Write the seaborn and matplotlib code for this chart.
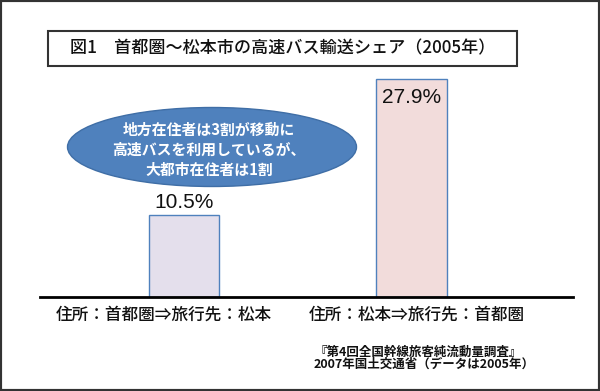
import seaborn as sns
import pandas as pd
import matplotlib.pyplot as plt
from matplotlib.patches import Ellipse, Rectangle

# data
routes = ["住所：首都圏⇒旅行先：松本", "住所：松本⇒旅行先：首都圏"]
shares = [10.5, 27.9]
share_labels = ["10.5%", "27.9%"]
bar_colors = ["#e4dfec", "#f2dcdb"]

title = "図1　首都圏～松本市の高速バス輸送シェア（2005年）"
callout = "地方在住者は3割が移動に\n高速バスを利用しているが、\n大都市在住者は1割"
source = ["『第4回全国幹線旅客純流動量調査』", "2007年国土交通省（データは2005年）"]

sns.set_style("white")
plt.rcParams['font.family'] = ['Noto Sans CJK JP', 'DejaVu Sans']

W, H = 600, 391
fig = plt.figure(figsize=(6, 3.91), dpi=100)
ax = fig.add_axes([40 / W, 1 - 297 / H, 533 / W, 257 / H])
ax.set_facecolor("none")

df = pd.DataFrame({"route": routes, "share": shares})
sns.barplot(data=df, x="route", y="share", hue="route", palette=bar_colors,
            saturation=1, width=0.31, edgecolor="#4f81bd", linewidth=1,
            legend=False, ax=ax)

ax.set_xlim(-0.633, 1.710)
ax.set_ylim(0, 32.9)
ax.set_xlabel("")
ax.set_ylabel("")
ax.set_yticks([])
ax.tick_params(axis="x", length=0, labelbottom=False)
for s in ["top", "left", "right"]:
    ax.spines[s].set_visible(False)
ax.spines["bottom"].set_color("black")
ax.spines["bottom"].set_linewidth(2)

# value labels: first one sits above the bar, second one just inside the top
label_offsets = [2, -13]
for i, (v, lab) in enumerate(zip(shares, share_labels)):
    ax.annotate(lab, xy=(i, v), xytext=(0, label_offsets[i]), textcoords="offset points",
                ha="center", va="bottom" if label_offsets[i] > 0 else "center",
                fontsize=15, family="Liberation Sans", color="#111111")

# category labels under the axis (not centred under the bars in the original)
cat_dx = [-14.5, 4]
for i, r in enumerate(routes):
    ax.annotate(r, xy=(i, 0), xycoords=("data", "axes fraction"),
                xytext=(cat_dx[i], -12.5), textcoords="offset points",
                ha="center", va="center", fontsize=12, fontweight="medium",
                color="#111111")

# title box
fig.patches.append(Rectangle((48 / W, 1 - 66 / H), 469 / W, 35 / H, transform=fig.transFigure,
                             facecolor="white", edgecolor="#333333", linewidth=1.5))
fig.text(282.5 / W, 1 - 48.5 / H, title, ha="center", va="center", fontsize=12.3,
         fontweight="medium", color="#111111")

# blue call-out ellipse
fig.patches.append(Ellipse((212 / W, 1 - 147 / H), 289 / W, 79 / H, transform=fig.transFigure,
                           facecolor="#4f81bd", edgecolor="#3f6ea6", linewidth=1))
fig.text(209 / W, 1 - 150 / H, callout, ha="center", va="center", fontsize=10.7,
         fontweight="bold", color="white", linespacing=1.32)

# source note
fig.text(314 / W, 1 - 352 / H, source[0], ha="left", va="center", fontsize=9,
         fontweight="bold", color="#111111")
fig.text(314 / W, 1 - 364 / H, source[1], ha="left", va="center", fontsize=9,
         fontweight="bold", color="#111111")

# outer frame
fig.patches.append(Rectangle((0, 0), 1, 1, transform=fig.transFigure, fill=False,
                             edgecolor="#333333", linewidth=3))

fig.savefig("out.png", dpi=100)
